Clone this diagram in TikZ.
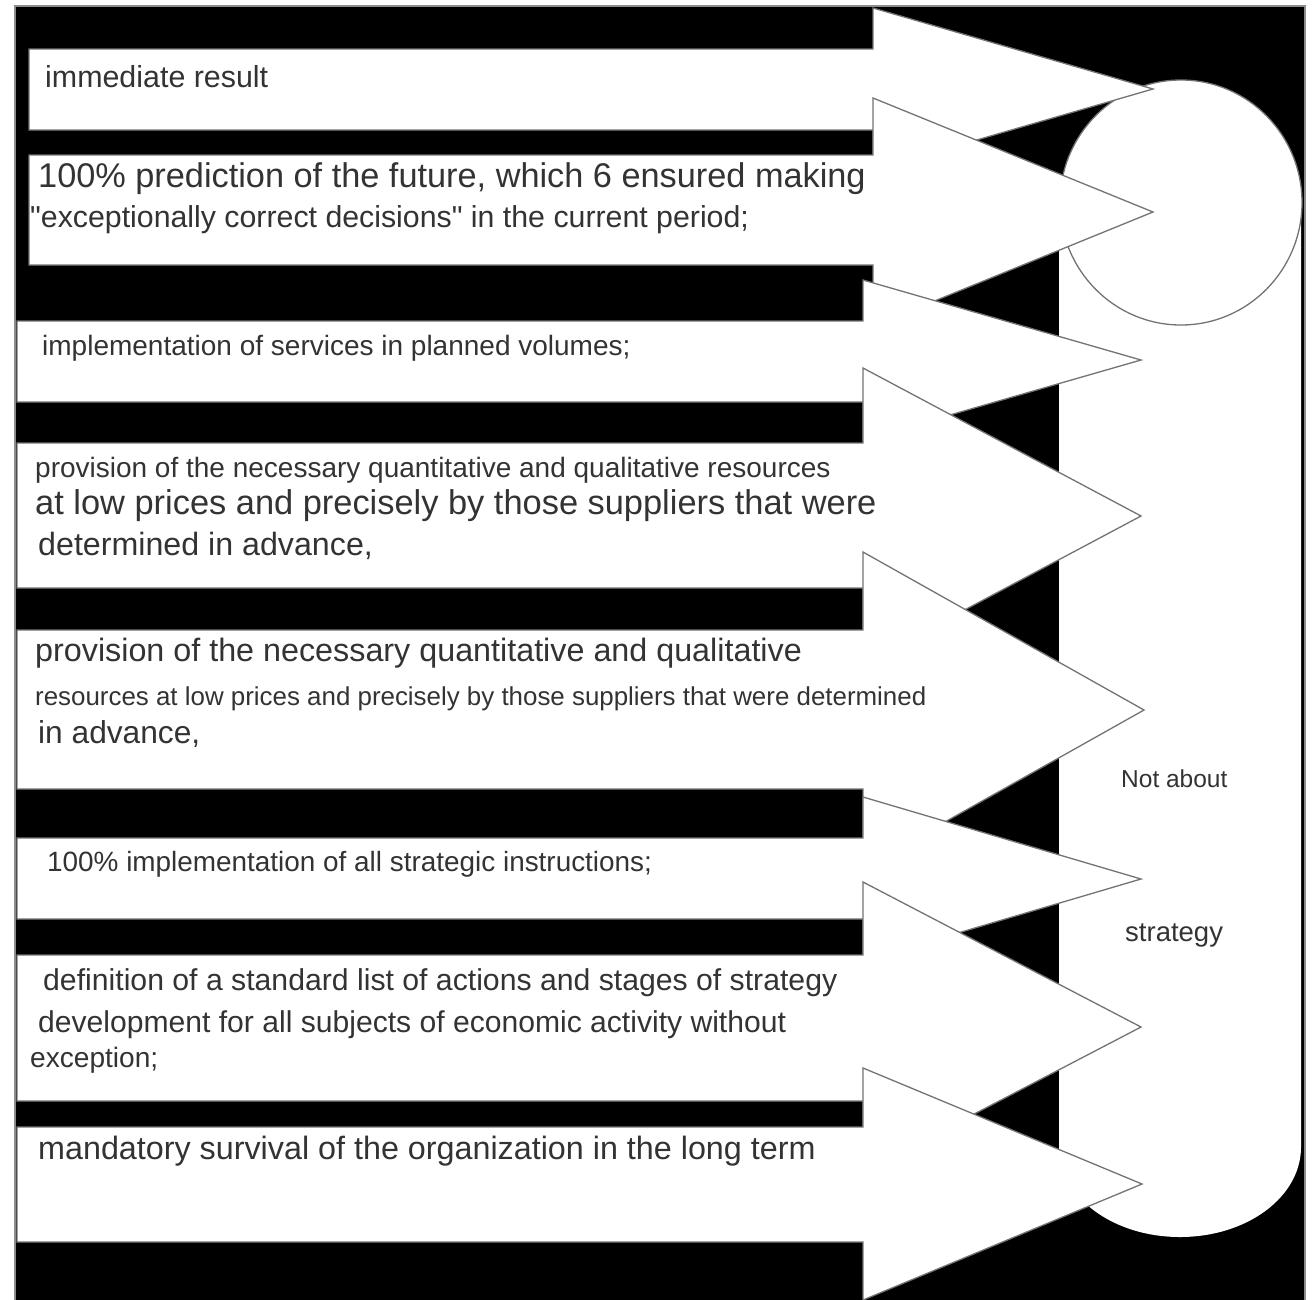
\documentclass[tikz,border=0pt]{standalone}
\usepackage{fontspec}
\setmainfont{Liberation Sans}[Ligatures=TeXOff]
\newcommand{\fsz}[1]{\fontsize{#1}{#1}\selectfont}
\newcommand{\mkarrow}[8]{\filldraw[arrowshape] (#1,#2) -- (#4,#2) -- (#4,#5) -- (#6,#7) -- (#4,#8) -- (#4,#3) -- (#1,#3) -- cycle;}
\tikzset{
  arrowshape/.style={fill=white, draw=black!55, line width=1.3pt, line join=miter},
  txt/.style={anchor=base west, inner sep=0pt, text=black!80},
}
\begin{document}
\begin{tikzpicture}[x=1pt,y=-1pt]
\useasboundingbox (0,0) rectangle (1314,1299);
\fill[white] (0,0) rectangle (1314,1299);
\filldraw[fill=black, draw=black!45, line width=1.2pt] (15,6) rectangle (1305,1320);
% pill
\fill[white] (1059,202) -- (1059,1147) .. controls (1059,1197) and (1113,1237) .. (1180,1237)
  .. controls (1247,1237) and (1301,1197) .. (1301,1147) -- (1301,202) -- cycle;
\filldraw[fill=white, draw=black!55, line width=1.3pt] (1181,202.5) ellipse [x radius=121, y radius=122.5];
% arrows and texts
\mkarrow{29}{49}{130}{873}{8}{1153}{89}{170}
\node[txt, font=\fsz{30.4}] (t1) at (45,87) {immediate result};
\mkarrow{29}{155}{265}{873}{98}{1153}{212}{326}
\node[txt, font=\fsz{34.3}] (t2a) at (38,187) {100\% prediction of the future, which 6 ensured making};
\node[txt, font=\fsz{30.3}] (t2b) at (30,227) {"exceptionally correct decisions" in the current period;};
\mkarrow{17}{321}{402}{863}{280}{1141}{360}{440}
\node[txt, font=\fsz{28}] (t3) at (42,355) {implementation of services in planned volumes;};
\mkarrow{17}{443}{588}{863}{368}{1141}{516}{664}
\node[txt, font=\fsz{28}] (t4a) at (35,477) {provision of the necessary quantitative and qualitative resources};
\node[txt, font=\fsz{34.4}] (t4b) at (35,514) {at low prices and precisely by those suppliers that were};
\node[txt, font=\fsz{32.2}] (t4c) at (38,555) {determined in advance,};
\mkarrow{17}{630}{789}{863}{552}{1144}{710}{868}
\node[txt, font=\fsz{32.3}] (t5a) at (35,661) {provision of the necessary quantitative and qualitative};
\node[txt, font=\fsz{25.9}] (t5b) at (35,705) {resources at low prices and precisely by those suppliers that were determined};
\node[txt, font=\fsz{31.7}] (t5c) at (38,743) {in advance,};
\mkarrow{17}{838}{919}{863}{797}{1141}{879}{961}
\node[txt, font=\fsz{27.9}] (t6) at (47,871) {100\% implementation of all strategic instructions;};
\mkarrow{17}{955}{1101}{863}{882}{1141}{1027}{1172}
\node[txt, font=\fsz{30.2}] (t7a) at (43,990) {definition of a standard list of actions and stages of strategy};
\node[txt, font=\fsz{30.1}] (t7b) at (38,1032) {development for all subjects of economic activity without};
\node[txt, font=\fsz{28.1}] (t7c) at (30,1067) {exception;};
\mkarrow{17}{1127}{1242}{863}{1068}{1142}{1184}{1300}
\node[txt, font=\fsz{32.3}] (t8) at (38,1159) {mandatory survival of the organization in the long term};
% labels in pill
\node[txt, font=\fsz{24.5}] (na) at (1121,787) {Not about};
\node[txt, font=\fsz{27.5}] (st) at (1125,941) {strategy};
\end{tikzpicture}
\end{document}
